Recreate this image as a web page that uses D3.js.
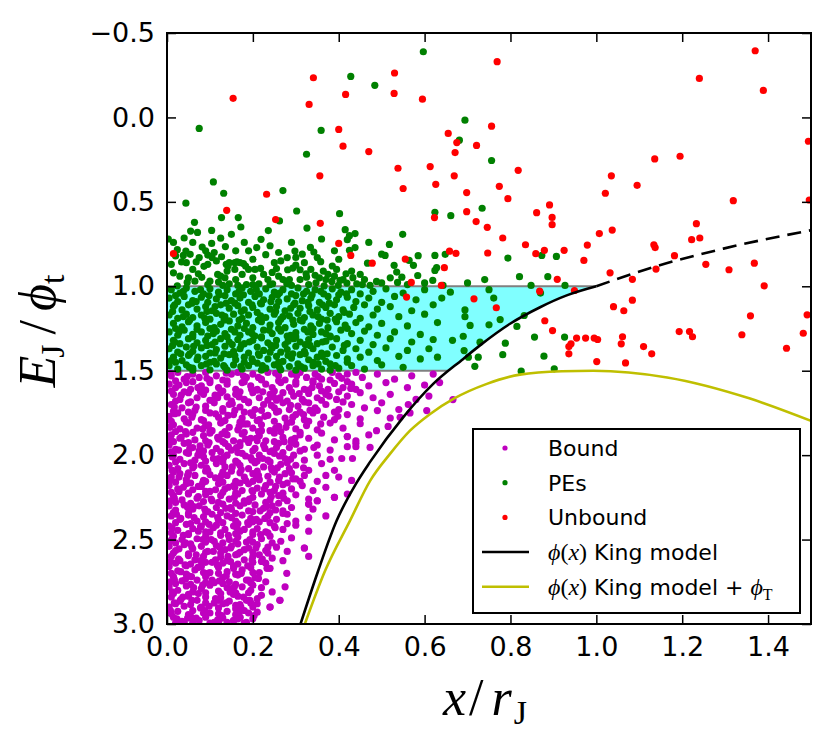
<!DOCTYPE html>
<html>
<head>
<meta charset="utf-8">
<script src="https://cdn.jsdelivr.net/npm/d3@7"></script>
<style>
    body { margin: 0; background: #fff; }
    svg text { font-family: "DejaVu Sans", sans-serif; }
    .tick text { font-size: 27px; fill: #000; }
    .tick line { stroke: #000; stroke-width: 1.5; }
    .math { font-family: "Liberation Serif", serif; }
</style>
</head>
<body>
<svg width="830" height="747"></svg>
<script>
// ticks
const xTicks = [0, 0.2, 0.4, 0.6, 0.8, 1.0, 1.2, 1.4]
const yTicks = [-0.5, 0, 0.5, 1.0, 1.5, 2.0, 2.5, 3.0]
const bandLimits = [1.0, 1.5]

// phi(x) King model
const kingSolid = [[0.311,3.0],[0.352,2.686],[0.395,2.389],[0.44,2.17],[0.473,2.04],[0.55,1.776],[0.62,1.578],[0.69,1.43],[0.729,1.35],[0.799,1.222],[0.869,1.124],[0.931,1.054],[1.0,1.0]]
const kingDashed = [[1.0,1.0],[1.141,0.88],[1.296,0.777],[1.5,0.668]]
// phi(x) King model + phi_T
const kingTidal = [[0.321,3.0],[0.368,2.686],[0.426,2.389],[0.473,2.152],[0.519,1.994],[0.566,1.855],[0.613,1.756],[0.667,1.667],[0.745,1.578],[0.822,1.523],[0.92,1.503],[0.993,1.5],[1.165,1.54],[1.358,1.665],[1.5,1.797]]

const bound = [
[.01,1.53],[.025,1.51],[.04,1.55],[.06,1.52],[.075,1.54],[.09,1.51],[.115,1.53],[.13,1.555],[.15,1.52],[.165,1.51],[.185,1.54],[.2,1.52],[.22,1.55],[.235,1.51],[.26,1.53],[.275,1.555],[.29,1.52],[.31,1.51],[.325,1.54],[.345,1.52],[.36,1.55],[.385,1.51],[.4,1.53],[.42,1.52],[.44,1.51],[.455,1.54],[.49,1.52],[.53,1.55],[.57,1.53],[.62,1.52],
[.005,1.58],[.02,1.6],[.045,1.57],[.055,1.61],[.08,1.59],[.1,1.57],[.12,1.6],[.14,1.58],[.16,1.61],[.175,1.57],[.195,1.59],[.21,1.61],[.23,1.58],[.245,1.6],[.265,1.57],[.285,1.6],[.3,1.58],[.32,1.61],[.34,1.57],[.355,1.59],[.375,1.61],[.39,1.575],[.41,1.6],[.43,1.58],[.47,1.59],[.51,1.57],[.56,1.6],[.6,1.585],[.635,1.57],
[.015,1.64],[.03,1.67],[.05,1.63],[.07,1.66],[.085,1.64],[.105,1.675],[.125,1.63],[.14,1.655],[.16,1.64],[.18,1.67],[.2,1.63],[.215,1.66],[.24,1.64],[.255,1.675],[.27,1.63],[.295,1.65],[.315,1.67],[.33,1.635],[.35,1.66],[.37,1.64],[.395,1.67],[.42,1.65],[.45,1.63],[.48,1.66],[.52,1.64],[.58,1.67],[.61,1.65],[.666,1.671],
[.01,1.7],[.035,1.72],[.05,1.69],[.065,1.735],[.09,1.71],[.11,1.69],[.13,1.725],[.145,1.7],[.17,1.715],[.19,1.69],[.205,1.73],[.225,1.7],[.25,1.72],[.27,1.69],[.285,1.73],[.305,1.71],[.33,1.69],[.345,1.72],[.37,1.7],[.4,1.73],[.43,1.7],[.46,1.72],[.5,1.69],[.54,1.73],[.562,1.70],[.605,1.736],
[.005,1.77],[.025,1.75],[.04,1.785],[.06,1.76],[.08,1.79],[.1,1.75],[.12,1.775],[.135,1.795],[.155,1.76],[.175,1.78],[.195,1.75],[.215,1.79],[.235,1.765],[.255,1.745],[.275,1.78],[.3,1.76],[.32,1.79],[.34,1.75],[.365,1.775],[.39,1.79],[.42,1.76],[.45,1.785],[.49,1.736],[.52,1.78],[.543,1.776],[.566,1.75],
[.015,1.82],[.03,1.845],[.05,1.81],[.07,1.84],[.09,1.825],[.105,1.855],[.125,1.81],[.145,1.835],[.165,1.85],[.18,1.815],[.2,1.84],[.22,1.82],[.24,1.855],[.26,1.83],[.28,1.81],[.3,1.845],[.325,1.825],[.35,1.85],[.38,1.81],[.41,1.84],[.45,1.814],[.488,1.855],[.515,1.83],
[.01,1.88],[.03,1.9],[.045,1.875],[.065,1.91],[.085,1.885],[.1,1.87],[.12,1.905],[.14,1.88],[.155,1.915],[.175,1.875],[.195,1.9],[.215,1.885],[.23,1.915],[.25,1.87],[.27,1.895],[.29,1.91],[.31,1.88],[.33,1.9],[.36,1.87],[.39,1.91],[.42,1.89],[.44,1.915],[.47,1.88],
[.005,1.94],[.02,1.965],[.04,1.93],[.06,1.955],[.075,1.975],[.095,1.94],[.115,1.96],[.135,1.93],[.15,1.97],[.17,1.945],[.19,1.925],[.205,1.96],[.225,1.94],[.245,1.975],[.26,1.93],[.285,1.955],[.3,1.935],[.32,1.965],[.35,1.94],[.38,1.97],[.42,1.95],[.44,1.93],[.473,1.954],
[.015,2.0],[.03,2.025],[.05,1.99],[.065,2.03],[.085,2.01],[.105,1.985],[.12,2.02],[.14,2.0],[.16,2.035],[.175,1.99],[.195,2.015],[.215,2.0],[.235,2.03],[.25,1.99],[.275,2.02],[.295,2.0],[.32,2.03],[.35,2.0],[.38,2.025],[.407,2.02],[.432,2.02],
[.005,2.06],[.025,2.08],[.04,2.05],[.06,2.075],[.08,2.06],[.095,2.09],[.115,2.05],[.135,2.07],[.15,2.095],[.17,2.06],[.19,2.08],[.205,2.045],[.225,2.07],[.245,2.09],[.265,2.055],[.285,2.08],[.3,2.06],[.33,2.09],[.36,2.05],[.39,2.09],
[.01,2.13],[.03,2.11],[.045,2.145],[.065,2.12],[.085,2.15],[.1,2.115],[.12,2.14],[.14,2.12],[.16,2.155],[.18,2.13],[.2,2.11],[.215,2.145],[.235,2.125],[.26,2.15],[.275,2.11],[.3,2.14],[.32,2.12],[.35,2.155],[.37,2.12],[.4,2.13],[.43,2.15],
[.005,2.18],[.025,2.2],[.045,2.17],[.06,2.205],[.08,2.185],[.1,2.215],[.12,2.17],[.135,2.2],[.155,2.18],[.175,2.21],[.19,2.17],[.21,2.195],[.23,2.18],[.25,2.21],[.27,2.175],[.29,2.2],[.315,2.18],[.34,2.21],[.37,2.19],[.42,2.23],
[.015,2.24],[.035,2.265],[.05,2.23],[.07,2.255],[.09,2.235],[.105,2.27],[.125,2.24],[.145,2.26],[.165,2.23],[.18,2.27],[.2,2.25],[.22,2.23],[.24,2.265],[.26,2.24],[.28,2.27],[.3,2.235],[.33,2.26],[.35,2.27],[.39,2.25],
[.005,2.3],[.02,2.325],[.04,2.295],[.06,2.32],[.075,2.3],[.095,2.335],[.115,2.31],[.13,2.29],[.15,2.32],[.17,2.3],[.19,2.33],[.205,2.295],[.225,2.315],[.245,2.3],[.27,2.33],[.29,2.31],[.33,2.29],[.34,2.32],
[.01,2.36],[.03,2.38],[.05,2.355],[.07,2.39],[.085,2.365],[.105,2.35],[.12,2.385],[.14,2.36],[.16,2.39],[.175,2.355],[.195,2.375],[.215,2.395],[.235,2.36],[.255,2.38],[.28,2.35],[.3,2.39],[.33,2.37],[.37,2.36],
[.005,2.42],[.025,2.445],[.045,2.41],[.06,2.435],[.08,2.42],[.1,2.455],[.115,2.415],[.135,2.44],[.155,2.42],[.17,2.45],[.19,2.41],[.21,2.435],[.23,2.455],[.25,2.42],[.27,2.44],[.3,2.415],[.33,2.45],
[.015,2.48],[.035,2.5],[.05,2.47],[.07,2.495],[.09,2.48],[.11,2.51],[.125,2.475],[.145,2.5],[.165,2.485],[.185,2.515],[.2,2.47],[.22,2.495],[.24,2.48],[.265,2.51],[.29,2.49],[.32,2.55],
[.005,2.54],[.02,2.565],[.04,2.53],[.06,2.555],[.08,2.54],[.095,2.57],[.115,2.535],[.135,2.56],[.15,2.54],[.17,2.575],[.19,2.55],[.21,2.53],[.23,2.565],[.255,2.545],[.28,2.57],[.33,2.6],
[.01,2.6],[.03,2.625],[.05,2.595],[.065,2.62],[.085,2.6],[.105,2.635],[.125,2.605],[.14,2.625],[.16,2.59],[.18,2.62],[.2,2.6],[.22,2.63],[.245,2.61],[.27,2.625],
[.005,2.66],[.025,2.685],[.045,2.655],[.065,2.68],[.08,2.66],[.1,2.695],[.12,2.665],[.14,2.69],[.155,2.655],[.175,2.68],[.195,2.665],[.215,2.695],[.24,2.67],[.279,2.70],
[.015,2.72],[.035,2.745],[.05,2.715],[.07,2.74],[.09,2.72],[.11,2.755],[.13,2.725],[.145,2.75],[.165,2.71],[.185,2.74],[.205,2.725],[.23,2.75],[.275,2.78],
[.005,2.78],[.025,2.8],[.045,2.775],[.06,2.81],[.08,2.79],[.1,2.77],[.12,2.805],[.14,2.785],[.16,2.815],[.175,2.78],[.195,2.8],[.22,2.785],[.245,2.81],
[.01,2.84],[.03,2.865],[.05,2.835],[.07,2.86],[.09,2.84],[.11,2.875],[.125,2.845],[.145,2.865],[.165,2.835],[.185,2.86],[.21,2.85],[.24,2.9],[.263,2.86],
[.005,2.9],[.025,2.925],[.04,2.895],[.06,2.92],[.08,2.9],[.1,2.935],[.12,2.905],[.14,2.925],[.16,2.89],[.18,2.92],[.2,2.9],[.21,2.93],
[.015,2.96],[.035,2.985],[.055,2.955],[.075,2.98],[.09,2.96],[.11,2.99],[.13,2.965],[.155,2.98],[.17,2.96],[.185,2.99],[.2,2.97],
[.02,1.56],[.06,1.565],[.1,1.555],[.14,1.56],[.18,1.565],[.22,1.555],[.26,1.56],[.3,1.565],[.34,1.56],[.38,1.555],[.42,1.565],
[.01,1.62],[.04,1.625],[.09,1.615],[.13,1.62],[.17,1.625],[.21,1.615],[.25,1.62],[.29,1.625],[.33,1.615],[.36,1.62],[.4,1.625],[.44,1.61],
[.02,1.68],[.055,1.685],[.1,1.675],[.15,1.68],[.19,1.685],[.235,1.675],[.28,1.68],[.32,1.685],[.36,1.675],[.41,1.685],
[.015,1.74],[.05,1.745],[.09,1.735],[.13,1.74],[.18,1.745],[.22,1.735],[.26,1.74],[.31,1.745],[.35,1.735],[.39,1.745],
[.01,1.8],[.045,1.805],[.085,1.795],[.13,1.8],[.17,1.805],[.21,1.795],[.25,1.8],[.29,1.805],[.33,1.8],
[.02,1.86],[.06,1.865],[.1,1.855],[.135,1.86],[.18,1.865],[.22,1.855],[.265,1.86],[.31,1.865],
[.015,1.92],[.05,1.925],[.09,1.915],[.13,1.92],[.17,1.925],[.21,1.915],[.25,1.92],[.29,1.925],
[.01,1.98],[.045,1.985],[.085,1.975],[.125,1.98],[.165,1.985],[.2,1.975],[.24,1.98],[.27,1.985],[.31,1.975],
[.02,2.04],[.055,2.045],[.09,2.035],[.13,2.04],[.165,2.045],[.21,2.035],[.24,2.04],[.28,2.045],
[.015,2.1],[.05,2.105],[.09,2.095],[.13,2.1],[.17,2.105],[.21,2.095],[.25,2.1],[.29,2.105],
[.02,2.16],[.055,2.165],[.09,2.155],[.13,2.16],[.17,2.165],[.2,2.155],[.24,2.16],[.28,2.165],[.31,2.155],
[.01,2.22],[.05,2.225],[.09,2.215],[.13,2.22],[.16,2.225],[.2,2.215],[.24,2.22],[.27,2.225],
[.02,2.28],[.055,2.285],[.085,2.275],[.12,2.28],[.16,2.285],[.19,2.275],[.23,2.28],[.26,2.285],
[.015,2.34],[.05,2.345],[.09,2.335],[.125,2.34],[.16,2.345],[.2,2.335],[.24,2.34],[.27,2.345],
[.02,2.4],[.055,2.405],[.09,2.395],[.13,2.4],[.165,2.405],[.2,2.395],[.24,2.4],[.28,2.405],
[.01,2.46],[.05,2.465],[.09,2.455],[.125,2.46],[.16,2.465],[.2,2.455],[.235,2.46],
[.02,2.52],[.055,2.525],[.09,2.515],[.13,2.52],[.165,2.525],[.2,2.515],[.245,2.52],
[.015,2.58],[.05,2.585],[.09,2.575],[.125,2.58],[.165,2.585],[.2,2.575],[.235,2.58],
[.02,2.64],[.055,2.645],[.09,2.635],[.13,2.64],[.165,2.645],[.2,2.635],[.23,2.64],
[.01,2.7],[.045,2.705],[.085,2.695],[.12,2.7],[.16,2.705],[.2,2.695],
[.02,2.76],[.055,2.765],[.09,2.755],[.13,2.76],[.16,2.765],[.195,2.755],
[.015,2.82],[.05,2.825],[.09,2.815],[.125,2.82],[.155,2.825],[.19,2.815],
[.02,2.88],[.055,2.885],[.09,2.875],[.13,2.88],[.17,2.885],[.195,2.875],
[.01,2.94],[.05,2.945],[.085,2.935],[.12,2.94],[.16,2.945],[.19,2.935],
[.02,2.995],[.06,2.99],[.1,2.995],[.14,2.99],
[.35,2.27],[.33,2.29],[.39,2.25],[.32,2.55],[.263,2.86],[.24,2.90],[.17,2.96],[.155,2.98],[.44,1.95],[.42,1.89],
[.028,1.585],[.072,1.6],[.112,1.645],[.152,1.695],[.197,1.61],[.248,1.655],[.288,1.705],[.338,1.6],[.378,1.65],[.428,1.605],[.017,1.715],[.058,1.775],[.097,1.82],[.142,1.765],[.187,1.815],[.228,1.77],[.277,1.835],[.318,1.76],[.358,1.815],[.398,1.77],
[.033,1.895],[.077,1.945],[.118,1.895],[.162,1.955],[.208,1.9],[.255,1.955],[.298,1.9],[.342,1.955],[.012,2.01],[.063,2.065],[.108,2.02],[.152,2.07],[.198,2.03],[.243,2.075],[.288,2.025],[.318,2.075],
[.028,2.13],[.073,2.185],[.113,2.135],[.158,2.19],[.208,2.13],[.253,2.185],[.293,2.14],[.017,2.255],[.062,2.305],[.103,2.26],[.148,2.31],[.192,2.26],[.232,2.305],[.272,2.255],
[.032,2.375],[.078,2.425],[.118,2.37],[.163,2.43],[.208,2.38],[.252,2.43],[.012,2.495],[.058,2.545],[.103,2.5],[.148,2.55],[.193,2.5],[.235,2.545],
[.027,2.615],[.072,2.665],[.113,2.62],[.155,2.67],[.198,2.62],[.233,2.67],[.017,2.735],[.062,2.785],[.105,2.74],[.15,2.79],[.19,2.74],
[.032,2.855],[.078,2.905],[.12,2.86],[.16,2.91],[.193,2.86],[.023,2.97],[.068,2.965],[.118,2.975],[.165,2.97],
[.008,1.515],[.047,1.535],[.093,1.545],[.138,1.515],[.178,1.53],[.213,1.54],[.253,1.515],[.302,1.53],[.352,1.535],[.407,1.545],
[.033,1.645],[.078,1.625],[.118,1.66],[.168,1.655],[.223,1.625],[.263,1.66],[.308,1.635],[.018,1.755],[.068,1.715],[.113,1.755],[.158,1.735],[.2,1.765],[.243,1.705],[.293,1.775],[.333,1.735],
[.007,1.835],[.043,1.86],[.083,1.845],[.128,1.875],[.168,1.83],[.213,1.86],[.253,1.84],[.008,1.905],[.053,1.96],[.098,1.925],[.143,1.95],[.183,1.905],[.228,1.96],[.273,1.92],
[.027,1.97],[.072,2.0],[.132,2.015],[.183,2.005],[.223,2.02],[.262,2.005],[.012,2.09],[.048,2.12],[.092,2.075],[.127,2.12],[.173,2.085],[.213,2.12],[.257,2.075],
[.007,2.15],[.038,2.19],[.083,2.165],[.143,2.19],[.183,2.15],[.227,2.2],[.262,2.13],[.028,2.215],[.073,2.245],[.113,2.205],[.157,2.25],[.198,2.21],[.243,2.245],
[.008,2.27],[.048,2.31],[.088,2.32],[.137,2.315],[.18,2.285],[.217,2.33],[.253,2.325],[.022,2.35],[.063,2.37],[.098,2.41],[.15,2.37],[.188,2.4],[.228,2.375],
[.012,2.43],[.038,2.475],[.073,2.45],[.108,2.43],[.143,2.475],[.18,2.44],[.218,2.47],[.007,2.51],[.043,2.52],[.083,2.5],[.123,2.545],[.16,2.51],[.207,2.55],
[.028,2.555],[.068,2.59],[.108,2.57],[.142,2.6],[.18,2.56],[.215,2.59],[.008,2.63],[.042,2.65],[.078,2.625],[.117,2.65],[.148,2.63],[.188,2.655],[.222,2.615],
[.032,2.69],[.057,2.72],[.095,2.7],[.138,2.715],[.173,2.7],[.213,2.73],[.008,2.75],[.043,2.735],[.083,2.77],[.122,2.745],[.157,2.78],[.2,2.77],
[.012,2.81],[.037,2.84],[.073,2.82],[.113,2.85],[.147,2.81],[.178,2.84],[.22,2.83],[.017,2.875],[.058,2.86],[.098,2.895],[.138,2.875],[.172,2.9],[.21,2.88],
[.008,2.92],[.048,2.965],[.088,2.92],[.128,2.95],[.168,2.93],[.203,2.95],[.04,2.99],[.12,2.99],[.18,2.995]
]

const pes = [
[0.075,0.065],[0.597,-0.389],[0.428,-0.243],[0.484,-0.190],[0.359,0.077],[0.325,0.218],[0.694,0.016],[0.681,0.135],[0.756,0.255],[0.108,0.382],[0.132,0.449],[0.044,0.508],[0.270,0.433],[0.302,0.554],[0.402,0.570],[0.262,0.613],[0.326,0.655],[0.624,0.562],[0.661,0.582],[0.734,0.538],[0.127,0.593],[0.166,0.593],[0.172,0.649],[0.064,0.621],[0.055,0.673],[0.071,0.681],[0.104,0.669],[0.040,0.714],[0.003,0.720],[0.150,0.692],[0.236,0.670],[0.219,0.722],[0.209,0.771],[0.104,0.746],[0.082,0.768],[0.136,0.765],[0.024,0.783],[0.044,0.791],[0.038,0.817],[0.034,0.856],[0.054,0.811],[0.068,0.856],[0.09,0.79],[0.095,0.815],[0.11,0.80],[0.105,0.83],[0.127,0.825],[0.086,0.882],[0.030,0.940],[0.073,0.926],[0.081,0.947],[0.047,0.977],[0.024,0.997],
[0.118,0.93],[0.125,0.94],[0.12,0.975],[0.135,0.95],[0.142,0.88],[0.138,0.87],[0.145,0.86],[0.158,0.86],[0.163,0.855],[0.17,0.86],[0.178,0.865],[0.183,0.88],[0.19,0.90],[0.158,0.90],[0.14,0.91],[0.175,0.93],[0.16,0.96],[0.185,0.99],[0.13,0.995],
[0.230,0.813],[0.218,0.894],[0.245,0.918],[0.246,0.985],[0.214,0.985],[0.281,0.902],[0.293,0.892],[0.310,0.902],[0.298,0.791],[0.300,0.829],[0.324,0.926],[0.325,0.946],[0.279,0.985],[0.290,0.995],[0.347,0.979],[0.366,0.998],[0.334,0.770],[0.342,0.797],[0.358,0.854],[0.364,0.910],[0.403,0.965],[0.399,0.995],[0.384,0.971],[0.417,0.926],[0.419,0.981],[0.433,0.949],[0.442,0.985],[0.415,0.665],[0.420,0.724],[0.438,0.688],[0.438,0.771],[0.425,0.787],[0.425,0.70],[0.467,0.863],[0.488,0.971],[0.473,0.995],[0.518,0.752],[0.508,0.817],[0.549,0.692],[0.529,0.876],[0.535,0.916],[0.537,0.977],[0.547,0.946],[0.585,0.819],[0.574,0.876],[0.564,0.847],[0.584,0.936],[0.624,0.817],[0.624,0.906],[0.628,0.89],[0.648,0.811],[0.619,0.965],[0.643,0.995],[0.794,0.833],[0.873,0.817],[0.907,0.823],[0.821,0.943],[0.887,0.943],[0.848,0.995],[0.927,0.995],
[0.01,0.87],[0.015,0.92],[0.06,0.90],[0.05,0.95],[0.1,0.97],[0.2,0.95],[0.235,0.96],[0.26,0.94],[0.27,0.96],[0.31,0.96],[0.33,0.99],[0.355,0.95],[0.375,0.93],[0.39,0.94],[0.45,0.93],[0.46,0.96],[0.5,0.98],[0.52,0.95],[0.56,0.99],[0.6,0.98],[0.7,0.98],[0.74,0.96],[0.2,0.84],[0.25,0.86],[0.32,0.86],[0.385,0.88],[0.40,0.84],[0.015,0.74],[0.06,0.74],[0.18,0.74],[0.26,0.80],[0.29,0.74],[0.36,0.72],[0.39,0.79],[0.47,0.74],[0.5,0.81],[0.125,0.715],
[0.02,0.82],[0.045,0.86],[0.075,0.83],[0.095,0.87],[0.115,0.85],[0.065,0.97],[0.095,0.99],[0.145,0.985],[0.165,0.995],[0.205,0.9],[0.225,0.93],[0.255,0.895],[0.265,0.85],[0.285,0.96],[0.3,0.875],[0.335,0.9],[0.345,0.935],[0.37,0.96],[0.395,0.9],[0.41,0.96],[0.43,0.91],[0.455,0.99],[0.24,0.76],[0.28,0.83],[0.315,0.81],[0.35,0.83],[0.19,0.79],[0.16,0.79],[0.2,0.99],[0.24,0.99],
[.01,1.02],[.03,1.04],[.045,1.01],[.065,1.03],[.085,1.045],[.1,1.015],[.12,1.035],[.14,1.02],[.16,1.045],[.175,1.01],[.195,1.03],[.215,1.045],[.23,1.015],[.25,1.035],[.27,1.02],[.29,1.045],[.305,1.01],[.325,1.03],[.345,1.02],[.365,1.045],[.385,1.015],[.405,1.035],[.43,1.02],[.45,1.045],[.48,1.03],[.51,1.015],[.55,1.04],[.6,1.02],[.66,1.035],[.75,1.02],[.87,1.04],
[.005,1.07],[.025,1.09],[.04,1.06],[.06,1.085],[.08,1.065],[.095,1.095],[.115,1.075],[.135,1.055],[.15,1.085],[.17,1.07],[.19,1.095],[.205,1.06],[.225,1.08],[.245,1.065],[.26,1.09],[.28,1.075],[.3,1.055],[.315,1.085],[.335,1.07],[.355,1.095],[.375,1.06],[.395,1.08],[.42,1.065],[.44,1.09],[.47,1.07],[.5,1.095],[.53,1.06],[.58,1.08],[.64,1.07],[.761,1.07],
[.015,1.12],[.035,1.14],[.05,1.11],[.07,1.135],[.09,1.12],[.105,1.145],[.125,1.11],[.145,1.13],[.165,1.115],[.18,1.14],[.2,1.125],[.22,1.105],[.24,1.135],[.255,1.12],[.275,1.145],[.295,1.11],[.31,1.13],[.33,1.115],[.35,1.14],[.37,1.125],[.39,1.11],[.41,1.14],[.435,1.125],[.46,1.11],[.49,1.135],[.52,1.12],[.57,1.145],[.62,1.11],[.694,1.14],
[.005,1.17],[.025,1.19],[.045,1.165],[.06,1.185],[.08,1.17],[.1,1.195],[.115,1.16],[.135,1.18],[.155,1.165],[.175,1.19],[.19,1.17],[.21,1.155],[.23,1.185],[.25,1.165],[.265,1.195],[.285,1.175],[.305,1.16],[.32,1.185],[.34,1.17],[.36,1.195],[.38,1.16],[.4,1.18],[.425,1.165],[.45,1.19],[.48,1.17],[.54,1.18],[.6,1.165],[.694,1.18],[.776,1.197],[.832,1.173],
[.015,1.22],[.035,1.24],[.05,1.21],[.07,1.235],[.09,1.215],[.11,1.245],[.125,1.225],[.145,1.205],[.165,1.235],[.185,1.22],[.2,1.245],[.22,1.21],[.24,1.23],[.26,1.215],[.275,1.245],[.295,1.225],[.315,1.205],[.335,1.235],[.355,1.22],[.375,1.245],[.395,1.21],[.415,1.23],[.44,1.215],[.47,1.24],[.5,1.22],[.56,1.235],[.63,1.215],[.706,1.232],[.75,1.228],[.815,1.238],
[.005,1.27],[.025,1.29],[.04,1.26],[.06,1.285],[.08,1.27],[.095,1.295],[.115,1.265],[.135,1.28],[.15,1.255],[.17,1.29],[.19,1.27],[.205,1.295],[.225,1.26],[.245,1.28],[.265,1.265],[.28,1.295],[.3,1.275],[.32,1.255],[.34,1.285],[.36,1.27],[.38,1.295],[.405,1.26],[.43,1.28],[.46,1.265],[.49,1.29],[.53,1.27],[.59,1.285],[.69,1.296],
[.015,1.32],[.03,1.34],[.05,1.31],[.07,1.335],[.09,1.32],[.105,1.345],[.125,1.31],[.145,1.33],[.165,1.315],[.18,1.34],[.2,1.32],[.22,1.305],[.235,1.335],[.255,1.32],[.275,1.345],[.295,1.31],[.31,1.33],[.33,1.315],[.35,1.34],[.37,1.325],[.395,1.31],[.42,1.34],[.45,1.32],[.48,1.345],[.52,1.31],[.57,1.33],[.62,1.315],[.665,1.32],[.729,1.331],
[.005,1.37],[.025,1.39],[.045,1.36],[.06,1.385],[.08,1.365],[.1,1.395],[.115,1.375],[.135,1.355],[.155,1.385],[.17,1.37],[.19,1.395],[.21,1.36],[.225,1.38],[.245,1.365],[.265,1.39],[.28,1.375],[.3,1.355],[.32,1.385],[.34,1.37],[.36,1.395],[.385,1.36],[.41,1.38],[.44,1.37],[.47,1.39],[.51,1.365],[.56,1.38],[.61,1.37],[.692,1.381],
[.015,1.42],[.035,1.44],[.05,1.41],[.07,1.435],[.09,1.415],[.11,1.445],[.125,1.425],[.145,1.405],[.16,1.435],[.18,1.42],[.2,1.445],[.215,1.41],[.235,1.43],[.255,1.415],[.27,1.445],[.29,1.425],[.31,1.405],[.33,1.435],[.35,1.42],[.37,1.445],[.395,1.41],[.42,1.43],[.45,1.42],[.49,1.44],[.54,1.415],[.59,1.43],[.63,1.42],[.702,1.42],[.725,1.42],
[.005,1.47],[.025,1.49],[.045,1.465],[.06,1.485],[.08,1.47],[.1,1.495],[.115,1.46],[.135,1.48],[.155,1.465],[.175,1.49],[.19,1.47],[.21,1.455],[.23,1.485],[.25,1.465],[.265,1.495],[.285,1.475],[.305,1.46],[.32,1.485],[.34,1.47],[.36,1.49],[.38,1.46],[.4,1.485],[.43,1.47],[.46,1.49],[.5,1.465],[.55,1.48],[.717,1.474],
[.02,1.055],[.058,1.1],[.098,1.055],[.138,1.1],[.178,1.05],[.218,1.1],[.258,1.05],[.298,1.1],[.338,1.05],[.378,1.1],[.418,1.045],[.013,1.15],[.053,1.2],[.093,1.15],[.133,1.2],[.173,1.15],[.213,1.2],[.253,1.15],[.293,1.2],[.333,1.15],[.373,1.2],[.413,1.155],
[.02,1.25],[.06,1.3],[.1,1.25],[.14,1.3],[.18,1.25],[.22,1.3],[.26,1.25],[.3,1.3],[.34,1.25],[.38,1.3],[.42,1.25],[.013,1.35],[.053,1.4],[.093,1.35],[.133,1.4],[.173,1.35],[.213,1.4],[.253,1.35],[.293,1.4],[.333,1.35],[.373,1.4],[.413,1.35],
[.02,1.45],[.06,1.497],[.1,1.45],[.14,1.497],[.18,1.45],[.22,1.497],[.26,1.45],[.3,1.497],[.34,1.45],[.38,1.497],[.42,1.45],
[.038,1.03],[.078,1.02],[.122,1.05],[.168,1.03],[.208,1.02],[.262,1.04],[.318,1.045],[.358,1.03],[.4,1.05],[.018,1.11],[.068,1.09],[.112,1.12],[.158,1.1],[.198,1.11],[.242,1.09],[.288,1.13],[.328,1.095],[.362,1.11],[.038,1.18],[.088,1.19],[.128,1.17],[.168,1.2],[.218,1.175],[.27,1.18],[.31,1.2],[.352,1.18],[.392,1.195],
[.028,1.27],[.07,1.255],[.108,1.28],[.158,1.27],[.198,1.28],[.238,1.26],[.288,1.29],[.328,1.27],[.37,1.28],[.018,1.33],[.062,1.355],[.112,1.33],[.152,1.345],[.192,1.33],[.242,1.35],[.282,1.325],[.322,1.345],[.362,1.33],
[.032,1.4],[.072,1.42],[.112,1.395],[.158,1.41],[.198,1.43],[.24,1.39],[.282,1.41],[.322,1.4],[.362,1.415],[.01,1.44],[.052,1.48],[.092,1.46],[.132,1.47],[.172,1.475],[.222,1.47],[.262,1.48],[.312,1.475],[.352,1.46],[.392,1.47],
[0.788,1.337],[0.782,1.405],[0.856,1.301],[0.878,1.414],[0.926,1.301],[0.825,1.503],[0.902,1.489]
]

const unbound = [
[0.154,-0.113],[0.341,-0.235],[0.331,-0.077],[0.416,-0.136],[0.530,-0.263],[0.529,-0.142],[0.595,-0.108],[0.769,-0.33],[0.400,0.071],[0.410,0.170],[0.470,0.202],[0.538,0.301],[0.550,0.421],[0.356,0.346],[0.232,0.455],[0.253,0.605],[0.357,0.627],[0.139,0.550],[0.015,0.807],[0.400,0.746],[0.428,0.817],[0.478,0.863],[0.555,0.839],[0.569,0.977],[0.646,0.890],[0.639,0.995],[0.613,0.291],[0.626,0.396],[0.623,0.593],[0.655,0.095],[0.675,0.149],[0.671,0.208],[0.669,0.346],[0.698,0.445],[0.698,0.558],[0.721,0.166],[0.756,0.052],[0.774,0.408],[0.720,0.617],[0.746,0.651],[0.658,0.792],[0.673,0.805],[0.747,0.803],[0.715,1.074],[0.558,1.064],
[1.370,-0.395],[1.240,-0.231],[1.389,-0.160],[1.494,0.141],[1.136,0.246],[1.195,0.230],[1.035,0.346],[1.095,0.402],[1.021,0.449],[0.818,0.313],[0.794,0.481],[1.319,0.493],[1.496,0.489],[0.861,0.564],[0.891,0.518],[0.897,0.592],[0.897,0.635],[0.782,0.714],[0.835,0.754],[1.007,0.688],[1.037,0.667],[1.233,0.629],[1.222,0.724],[1.241,0.714],[1.134,0.754],[1.137,0.771],[0.859,0.807],[0.879,0.787],[0.925,0.787],[0.979,0.756],[0.971,0.847],[1.182,0.819],[1.255,0.870],[1.309,0.902],[1.368,0.863],[1.391,0.997],[1.139,0.898],[1.032,0.920],[1.084,0.959],[0.909,0.959],[0.868,1.029],[0.949,1.025],[0.767,1.127],[1.040,1.121],[1.064,1.145],[1.084,1.082],[0.880,1.204],[0.898,1.262],[1.359,1.175],[1.491,1.169],[1.193,1.268],[1.217,1.268],[1.224,1.299],[1.339,1.287],[1.482,1.278],[1.443,1.367],[0.954,1.307],[0.975,1.307],[0.995,1.307],[1.003,1.315],[0.941,1.341],[0.936,1.357],[0.936,1.400],[1.061,1.299],[1.058,1.341],[1.110,1.357],[1.129,1.400],[1.001,1.446],[1.068,1.454]
]

const legendLabels = ['Bound', 'PEs', 'Unbound', 'King model', 'King model + ']
const colors = { bound: '#bf00bf', pes: '#008000', unbound: '#ff0000', king: '#000', tidal: '#bfbf00', band: '#80ffff', edge: '#808080' }

let svg = d3.select('svg')
let margin = { left: 167, right: 19, top: 33, bottom: 123 }
let width = svg.attr('width') - margin.left - margin.right
let height = svg.attr('height') - margin.top - margin.bottom

let scale = {
    x: d3.scaleLinear().domain([0, 1.5]).range([0, width]),
    y: d3.scaleLinear().domain([-0.5, 3.0]).range([0, height])
}

let g = svg.append('g')
    .attr('transform', `translate(${margin.left}, ${margin.top})`)

let defs = svg.append('defs')
defs.append('clipPath').attr('id', 'plot')
    .append('rect').attr('width', width).attr('height', height)

let line = d3.line()
    .x(d => scale.x(d[0]))
    .y(d => scale.y(d[1]))
    .curve(d3.curveMonotoneX)

// region left of the King curve, used to cut the band
let [x0, x1] = scale.x.domain()
let [yTop, yBottom] = scale.y.domain()
defs.append('clipPath').attr('id', 'inside')
    .append('path')
    .attr('d', line(kingSolid)
        + `L${scale.x(1.0)},${scale.y(yTop)}L${scale.x(x0)},${scale.y(yTop)}L${scale.x(x0)},${scale.y(yBottom)}Z`)

let plot = g.append('g').attr('clip-path', 'url(#plot)')

// cyan band between the limits
let band = plot.append('g').attr('clip-path', 'url(#inside)')
band.append('rect')
    .attr('x', scale.x(x0))
    .attr('y', scale.y(bandLimits[0]))
    .attr('width', scale.x(x1) - scale.x(x0))
    .attr('height', scale.y(bandLimits[1]) - scale.y(bandLimits[0]))
    .attr('fill', colors.band)
band.selectAll('.limit')
    .data(bandLimits)
    .enter()
    .append('line')
    .attr('class', 'limit')
    .attr('x1', scale.x(x0))
    .attr('x2', scale.x(x1))
    .attr('y1', d => scale.y(d))
    .attr('y2', d => scale.y(d))
    .attr('stroke', colors.edge)
    .attr('stroke-width', 2)

// scatter points
let series = [
    { data: bound, color: colors.bound },
    { data: pes, color: colors.pes },
    { data: unbound, color: colors.unbound }
]
series.forEach(s => {
    plot.append('g')
        .selectAll('circle')
        .data(s.data)
        .enter()
        .append('circle')
        .attr('cx', d => scale.x(d[0]))
        .attr('cy', d => scale.y(d[1]))
        .attr('r', 3.6)
        .attr('fill', s.color)
})

// curves
plot.append('path').attr('d', line(kingSolid))
    .attr('fill', 'none').attr('stroke', colors.king).attr('stroke-width', 2.6)
plot.append('path').attr('d', line(kingDashed))
    .attr('fill', 'none').attr('stroke', colors.king).attr('stroke-width', 2.6)
    .attr('stroke-dasharray', '14,8')
plot.append('path').attr('d', line(kingTidal))
    .attr('fill', 'none').attr('stroke', colors.tidal).attr('stroke-width', 2.6)

// axes, ticks pointing inward
let tick = 9
let axis = {
    bottom: d3.axisBottom(scale.x).tickValues(xTicks).tickSizeInner(-tick).tickSizeOuter(0).tickPadding(13).tickFormat(d3.format('.1f')),
    top: d3.axisTop(scale.x).tickValues(xTicks).tickSizeInner(-tick).tickSizeOuter(0).tickFormat(''),
    left: d3.axisLeft(scale.y).tickValues(yTicks).tickSizeInner(-tick).tickSizeOuter(0).tickPadding(12).tickFormat(d => d3.format('.1f')(d).replace('-', '\u2212')),
    right: d3.axisRight(scale.y).tickValues(yTicks).tickSizeInner(-tick).tickSizeOuter(0).tickFormat('')
}

g.append('g').attr('transform', `translate(0,${height})`).call(axis.bottom)
g.append('g').call(axis.top)
g.append('g').call(axis.left)
g.append('g').attr('transform', `translate(${width},0)`).call(axis.right)
g.selectAll('.domain').remove()
g.selectAll('.tick text').attr('font-family', 'DejaVu Sans')

// frame
g.append('rect')
    .attr('width', width).attr('height', height)
    .attr('fill', 'none').attr('stroke', '#000').attr('stroke-width', 2)

// X label
let xl = svg.append('text')
    .attr('class', 'math')
    .attr('x', margin.left + width / 2 - 4)
    .attr('y', 715)
    .attr('text-anchor', 'middle')
    .attr('font-size', 52)
xl.append('tspan').attr('font-style', 'italic').text('x')
xl.append('tspan').attr('dx', 3).text('/')
xl.append('tspan').attr('dx', 8).attr('font-style', 'italic').text('r')
xl.append('tspan').attr('dx', 2).attr('dy', 9).attr('font-size', 34).text('J')

// Y label
let yl = svg.append('text')
    .attr('class', 'math')
    .attr('transform', `translate(55, 331) rotate(-90)`)
    .attr('text-anchor', 'middle')
    .attr('font-size', 52)
yl.append('tspan').attr('font-style', 'italic').text('E')
yl.append('tspan').attr('dx', -2).attr('dy', 9).attr('font-size', 34).text('J')
yl.append('tspan').attr('dx', 10).attr('dy', -9).text('/')
yl.append('tspan').attr('dx', 9).attr('font-style', 'italic').text('\u03d5')
yl.append('tspan').attr('dx', 0).attr('dy', 9).attr('font-size', 34).text('t')

// legend
let legend = svg.append('g').attr('transform', 'translate(473, 429)')
legend.append('rect')
    .attr('width', 327).attr('height', 184)
    .attr('fill', '#fff').attr('stroke', '#000').attr('stroke-width', 2)

let rows = [
    { type: 'dot', color: colors.bound },
    { type: 'dot', color: colors.pes },
    { type: 'dot', color: colors.unbound },
    { type: 'line', color: colors.king },
    { type: 'line', color: colors.tidal }
]
rows.forEach((r, i) => {
    let cy = 19 + i * 34.7
    if (r.type === 'dot') {
        legend.append('circle').attr('cx', 32).attr('cy', cy).attr('r', 2.6).attr('fill', r.color)
    } else {
        legend.append('line').attr('x1', 9).attr('x2', 56).attr('y1', cy).attr('y2', cy)
            .attr('stroke', r.color).attr('stroke-width', 2.5)
    }
    let t = legend.append('text')
        .attr('x', 75).attr('y', cy + 8)
        .attr('font-size', 22)
    if (r.type === 'line') {
        t.append('tspan').attr('class', 'math').attr('font-style', 'italic').attr('font-size', 24).text('\u03d5')
        t.append('tspan').attr('class', 'math').attr('font-size', 24).text('(')
        t.append('tspan').attr('class', 'math').attr('font-style', 'italic').attr('font-size', 24).text('x')
        t.append('tspan').attr('class', 'math').attr('font-size', 24).text(')')
        t.append('tspan').text(' ' + legendLabels[i])
        if (i === 4) {
            t.append('tspan').attr('class', 'math').attr('font-style', 'italic').attr('font-size', 24).text('\u03d5')
            t.append('tspan').attr('class', 'math').attr('font-size', 16).attr('dy', 5).text('T')
        }
    } else {
        t.text(legendLabels[i])
    }
})
</script>
</body>
</html>
